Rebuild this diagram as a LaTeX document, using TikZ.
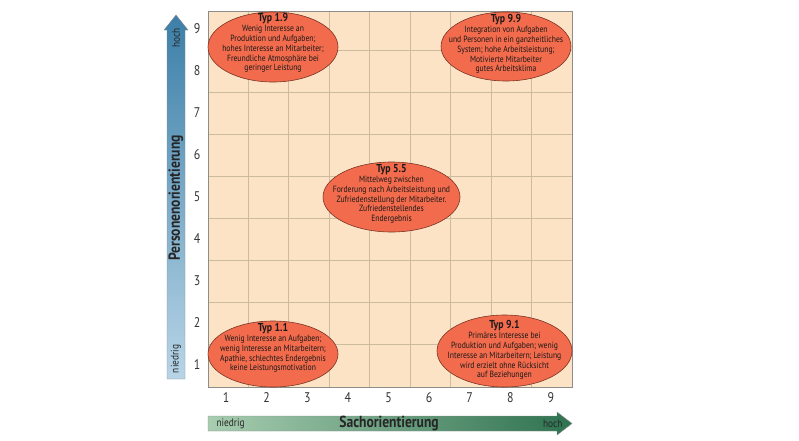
\documentclass[tikz,border=0pt]{standalone}
\usepackage{fontspec}
\setmainfont{PT Sans}[FakeStretch=0.85]
\usetikzlibrary{shapes.geometric,positioning}
\definecolor{gridpeach}{HTML}{FDE3C5}
\definecolor{gridline}{HTML}{CDBBA0}
\definecolor{typred}{HTML}{F26B4C}
\definecolor{typedge}{HTML}{7A3424}
\definecolor{personhi}{HTML}{3C7FA8}
\definecolor{personlo}{HTML}{B8D5E7}
\definecolor{sachlo}{HTML}{A8CDB0}
\definecolor{sachhi}{HTML}{2E7250}
\newcommand{\typhead}[1]{{\fontsize{11.5}{12}\selectfont\bfseries Typ #1}}

\begin{document}
\begin{tikzpicture}[
  x=1pt, y=-1pt,
  font=\fontsize{9}{9.9}\selectfont,
  cellline/.style={draw=gridline, line width=0.9pt},
  tick/.style={font=\fontsize{14}{14}\selectfont, text=black!80},
  typ/.style={ellipse, draw=typedge, fill=typred, line width=0.6pt, inner sep=0pt},
  typtext/.style={align=center, text=black!90, inner sep=0pt},
  axisname/.style={font=\fontsize{16}{16}\selectfont\bfseries, text=black!85},
  axisend/.style={font=\fontsize{11}{11}\selectfont, text=black!85},
  axisframe/.style={draw=black!45, line width=0.4pt}
]
  \useasboundingbox (0,0) rectangle (799,440);

  % grid
  \fill[gridpeach] (208,11) rectangle (572,387);
  \foreach \k in {1,...,8} {
    \draw[cellline] ({208+40.44*\k},11) -- ({208+40.44*\k},387);
    \draw[cellline] (208,{387-42.1*\k}) -- (572,{387-42.1*\k});
  }
  \draw[black!45, line width=0.6pt] (208,11) rectangle (572,387);

  \foreach \k in {1,...,9} {
    \node[tick] (x\k) at ({185.5+40.6*\k},398) {\k};
    \node[tick] (y\k) at (197,{407.1-42.1*\k}) {\k};
  }

  % axes
  \shade[top color=personhi, bottom color=personlo, axisframe]
    (167,379) -- (167,30) -- (164,30) -- (176,15) -- (188,30) -- (185,30) -- (185,379) -- cycle;
  \shade[left color=sachlo, right color=sachhi, axisframe]
    (208,416) -- (557,416) -- (557,412) -- (572,423.5) -- (557,435) -- (557,431) -- (208,431) -- cycle;

  \node[axisend, rotate=90] (yhoch) at (176,38) {hoch};
  \node[axisend, rotate=90] (yniedrig) at (176,359) {niedrig};
  \node[axisname, rotate=90] (yname) at (176,198) {Personenorientierung};
  \node[axisend, anchor=west] (xniedrig) at (213,423.5) {niedrig};
  \node[axisend, anchor=east] (xhoch) at (566,423.5) {hoch};
  \node[axisname] (xname) at (389,423.5) {Sachorientierung};

  % types
  \node[typ, minimum width=130pt, minimum height=70pt] (t19) at (273,47) {};
  \node[typ, minimum width=130pt, minimum height=69pt] (t99) at (506,46.5) {};
  \node[typ, minimum width=137pt, minimum height=70pt] (t55) at (391.5,197) {};
  \node[typ, minimum width=130pt, minimum height=66pt] (t11) at (273,354) {};
  \node[typ, minimum width=135pt, minimum height=72pt] (t91) at (504.5,351) {};

  \node[typtext] (t19text) at (273,43) {\typhead{1.9}\\Wenig Interesse an\\Produktion und Aufgaben;\\hohes Interesse an Mitarbeiter;\\Freundliche Atmosphäre bei\\geringer Leistung};
  \node[typtext] (t99text) at (506,44) {\typhead{9.9}\\Integration von Aufgaben\\und Personen in ein ganzheitliches\\System; hohe Arbeitsleistung;\\Motivierte Mitarbeiter\\gutes Arbeitsklima};
  \node[typtext] (t55text) at (391.5,194) {\typhead{5.5}\\Mittelweg zwischen\\Forderung nach Arbeitsleistung und\\Zufriedenstellung der Mitarbeiter.\\Zufriedenstellendes\\Endergebnis};
  \node[typtext] (t11text) at (273,348) {\typhead{1.1}\\Wenig Interesse an Aufgaben;\\wenig Interesse an Mitarbeitern;\\Apathie, schlechtes Endergebnis\\keine Leistungsmotivation};
  \node[typtext] (t91text) at (504.5,350) {\typhead{9.1}\\Primäres Interesse bei\\Produktion und Aufgaben; wenig\\Interesse an Mitarbeitern; Leistung\\wird erzielt ohne Rücksicht\\auf Beziehungen};
\end{tikzpicture}
\end{document}
